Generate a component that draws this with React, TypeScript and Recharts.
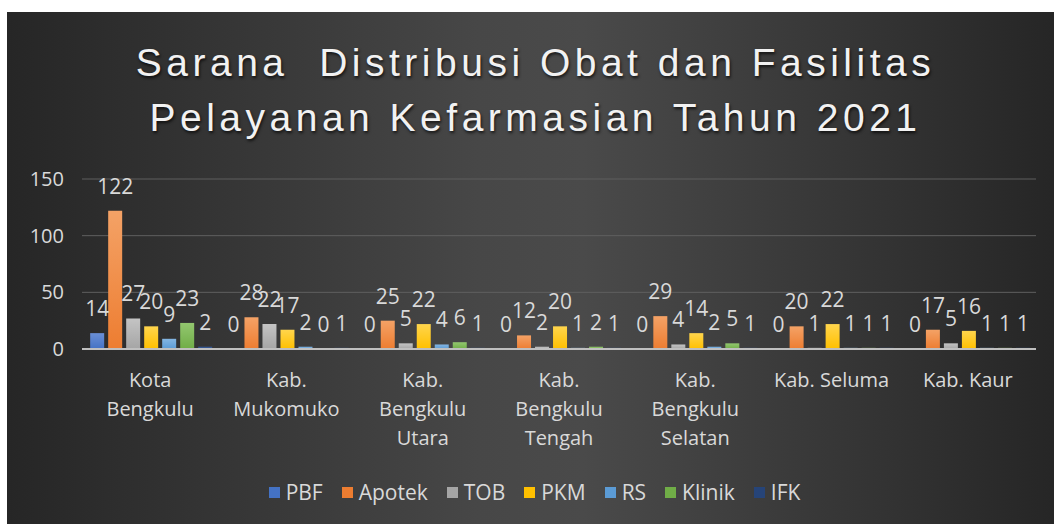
import { BarChart, Bar, XAxis, YAxis, CartesianGrid, Legend, LabelList } from "recharts";

const regions = [
  "Kota\nBengkulu",
  "Kab.\nMukomuko",
  "Kab.\nBengkulu\nUtara",
  "Kab.\nBengkulu\nTengah",
  "Kab.\nBengkulu\nSelatan",
  "Kab. Seluma",
  "Kab. Kaur",
];
const pbf = [14, 0, 0, 0, 0, 0, 0];
const apotek = [122, 28, 25, 12, 29, 20, 17];
const tob = [27, 22, 5, 2, 4, 1, 5];
const pkm = [20, 17, 22, 20, 14, 22, 16];
const rs = [9, 2, 4, 1, 2, 1, 1];
const klinik = [23, 0, 6, 2, 5, 1, 1];
const ifk = [2, 1, 1, 1, 1, 1, 1];
const yTicks = [0, 50, 100, 150];

const SERIES = [
  { key: "PBF", values: pbf, color: "#4472c4", light: "#6a8fd6" },
  { key: "Apotek", values: apotek, color: "#ed7d31", light: "#f4a266" },
  { key: "TOB", values: tob, color: "#a5a5a5", light: "#c4c4c4" },
  { key: "PKM", values: pkm, color: "#ffc000", light: "#ffd54d" },
  { key: "RS", values: rs, color: "#5b9bd5", light: "#84b6e3" },
  { key: "Klinik", values: klinik, color: "#70ad47", light: "#93c76f" },
  { key: "IFK", values: ifk, color: "#264478", light: "#3a5e9c" },
];

const data = regions.map((name, i) => {
  const row: Record<string, string | number> = { name };
  SERIES.forEach((s) => {
    row[s.key] = s.values[i];
  });
  return row;
});

const TEXT = "#d9d9d9";
const FONT = "'Open Sans', sans-serif";

function RegionTick({ x, y, payload }: any) {
  const lines = String(payload.value).split("\n");
  return (
    <g transform={`translate(${x},${y})`}>
      {lines.map((line, i) => (
        <text key={i} x={0} y={i * 29} dy={30} textAnchor="middle" fill={TEXT} fontSize={20} fontFamily={FONT}>
          {line}
        </text>
      ))}
    </g>
  );
}

// legend follows series order, not the alphabetical payload
function LegendRow() {
  return (
    <div style={{ display: "flex", justifyContent: "center", gap: 19, fontFamily: FONT, fontSize: 21, color: TEXT, paddingLeft: 18 }}>
      {SERIES.map((s) => (
        <div key={s.key} style={{ display: "flex", alignItems: "center" }}>
          <span style={{ width: 11, height: 11, background: s.color, marginRight: 6, display: "inline-block" }} />
          {s.key}
        </div>
      ))}
    </div>
  );
}

export default function App() {
  return (
    <div
      style={{
        position: "fixed",
        left: 7,
        top: 12,
        width: 1047,
        height: 512,
        background: "linear-gradient(to right, #262626 0%, #474747 45%, #4a4a4a 55%, #262626 100%)",
      }}
    >
      <div
        style={{
          position: "absolute",
          left: 0,
          right: 0,
          top: 23,
          paddingLeft: 10,
          textAlign: "center",
          fontFamily: "'Liberation Sans', Arial, sans-serif",
          fontSize: 39,
          lineHeight: "55px",
          letterSpacing: 4.5,
          color: "#f2f2f2",
          textShadow: "1px 2px 3px rgba(0,0,0,0.7)",
        }}
      >
        Sarana&nbsp; Distribusi Obat dan Fasilitas
        <br />
        Pelayanan Kefarmasian Tahun 2021
      </div>
      <BarChart
        width={1047}
        height={512}
        data={data}
        margin={{ top: 167, right: 18, left: 8, bottom: 14 }}
        barCategoryGap="6%"
        barGap={4}
      >
        <defs>
          {SERIES.map((s) => (
            <linearGradient key={s.key} id={`g-${s.key}`} x1="0" y1="0" x2="0" y2="1">
              <stop offset="0%" stopColor={s.light} />
              <stop offset="100%" stopColor={s.color} />
            </linearGradient>
          ))}
        </defs>
        <CartesianGrid vertical={false} stroke="#5f5f5f" />
        <XAxis
          dataKey="name"
          interval={0}
          tick={<RegionTick />}
          tickLine={false}
          axisLine={{ stroke: "#bfbfbf", strokeWidth: 2 }}
          height={129}
        />
        <YAxis
          domain={[0, 150]}
          ticks={yTicks}
          width={67}
          tickLine={false}
          axisLine={false}
          tick={{ fill: TEXT, fontSize: 20, fontFamily: FONT }}
          tickMargin={12}
        />
        <Legend content={<LegendRow />} verticalAlign="bottom" height={32} />
        {SERIES.map((s) => (
          <Bar key={s.key} dataKey={s.key} fill={`url(#g-${s.key})`} isAnimationActive={false} minPointSize={0.01}>
            <LabelList dataKey={s.key} position="top" offset={17} fill={TEXT} fontSize={21} fontFamily={FONT} />
          </Bar>
        ))}
      </BarChart>
    </div>
  );
}
